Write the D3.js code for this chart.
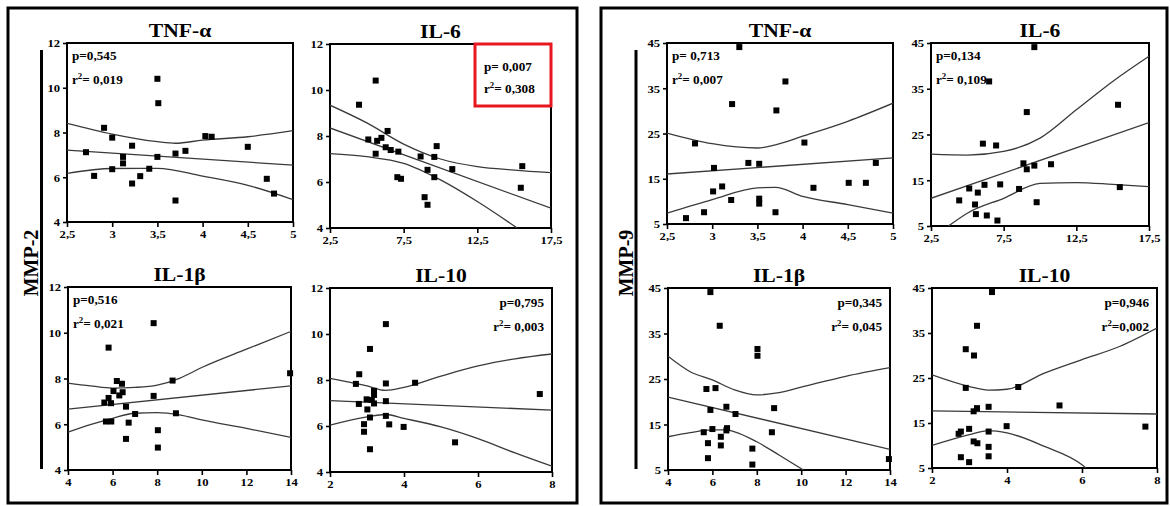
<!DOCTYPE html>
<html><head><meta charset="utf-8">
<script src="https://cdn.jsdelivr.net/npm/d3@7"></script>
<style>
body{margin:0;background:#fff}
svg{display:block}
text{font-family:"Liberation Serif","Times New Roman",serif;font-weight:bold;fill:#000}
</style>
</head><body>
<svg id="c" width="1170" height="506"></svg>
<script>
// ---------------- DATA ----------------
const groupLabels = ["MMP-2", "MMP-9"];
const cytokines = ["TNF-α", "IL-6", "IL-1β", "IL-10"];
const xDomains = [[2.5, 5], [2.5, 17.5], [4, 14], [2, 8]];
const xTickValues = [[2.5, 3, 3.5, 4, 4.5, 5], [2.5, 7.5, 12.5, 17.5], [4, 6, 8, 10, 12, 14], [2, 4, 6, 8]];
const yDomainMMP2 = [4, 12];
const yTicksMMP2 = [4, 6, 8, 10, 12];
const yDomainMMP9 = [5, 45];
const yTicksMMP9 = [5, 15, 25, 35, 45];
const pTextMMP2 = ["p=0,545", "p= 0,007", "p=0,516", "p=0,795"];
const r2TextMMP2 = ["= 0,019", "= 0,308", "= 0,021", "= 0,003"];
const pTextMMP9 = ["p= 0,713", "p=0,134", "p=0,345", "p=0,946"];
const r2TextMMP9 = ["= 0,007", "= 0,109", "= 0,045", "=0,002"];

// MMP-2 points [cytokine, MMP]
const mmp2_tnf = [[3.50,10.40],[3.51,9.31],[2.91,8.21],[3.00,7.77],[2.71,7.12],[3.22,7.41],[3.12,6.91],[3.12,6.62],[3.00,6.36],[2.80,6.06],[3.22,5.72],[3.31,6.05],[3.41,6.38],[3.50,6.91],[3.70,7.06],[3.81,7.18],[3.70,4.96],[4.03,7.84],[4.10,7.81],[4.50,7.36],[4.71,5.93],[4.79,5.27]];
const mmp2_il6 = [[5.60,10.41],[4.47,9.36],[5.10,7.85],[5.70,7.79],[5.99,7.92],[6.41,8.22],[5.60,7.23],[6.28,7.51],[6.62,7.39],[7.14,7.32],[7.07,6.21],[7.32,6.14],[8.65,7.11],[9.12,6.53],[9.58,6.21],[9.58,7.09],[9.74,7.56],[8.92,5.34],[9.12,5.01],[10.8,6.56],[15.55,6.69],[15.45,5.75]];
const mmp2_il1b = [[7.84,10.42],[5.82,9.35],[6.19,7.89],[6.42,7.77],[6.04,7.45],[6.30,7.26],[6.45,7.40],[5.82,7.15],[5.63,6.95],[5.93,6.92],[6.60,6.77],[7.01,6.45],[6.72,6.07],[5.70,6.12],[5.94,6.12],[6.60,5.36],[7.84,7.24],[8.69,7.91],[8.84,6.48],[8.03,5.74],[8.03,4.98],[13.96,8.23]];
const mmp2_il10 = [[3.51,10.43],[3.08,9.35],[2.79,8.25],[2.70,7.83],[3.51,7.85],[4.30,7.88],[3.19,7.53],[3.19,7.35],[2.99,7.16],[3.13,7.13],[2.78,6.96],[3.19,6.98],[3.51,7.08],[3.01,6.72],[3.08,6.37],[3.51,6.44],[2.92,6.08],[2.92,5.75],[3.60,6.07],[3.99,5.96],[3.08,4.99],[5.38,5.29],[7.67,7.39]];
// MMP-9 points
const mmp9_tnf = [[3.30,44.1],[3.81,36.5],[3.22,31.5],[3.71,30.1],[2.81,22.8],[4.02,23.0],[3.02,17.4],[3.40,18.5],[3.52,18.3],[4.81,18.5],[3.01,12.2],[3.11,13.3],[3.21,10.3],[3.52,10.6],[3.52,9.5],[4.12,13.0],[4.51,14.1],[4.70,14.1],[2.91,7.6],[3.70,7.6],[2.71,6.3]];
const mmp9_il6 = [[9.61,44.1],[6.50,36.6],[9.09,29.9],[15.37,31.5],[6.07,23.0],[6.98,22.6],[8.86,18.7],[9.09,17.4],[9.61,18.2],[10.76,18.5],[5.13,13.2],[6.18,14.0],[5.72,12.3],[7.26,14.1],[8.56,13.1],[4.44,10.6],[5.53,9.7],[5.59,7.6],[6.34,7.3],[7.07,6.2],[9.77,10.2],[15.49,13.5]];
const mmp9_il1b = [[5.91,44.1],[6.33,36.7],[8.03,31.6],[8.03,30.1],[5.73,22.8],[6.14,23.0],[5.91,18.2],[6.63,18.9],[7.04,17.3],[8.78,18.6],[5.61,13.3],[6.00,14.0],[6.66,14.2],[6.63,13.7],[6.38,12.3],[5.80,10.9],[6.38,10.4],[7.80,9.7],[5.80,7.6],[7.80,6.2],[8.68,13.3],[13.95,7.4]];
const mmp9_il10 = [[3.60,44.1],[3.20,36.6],[2.90,31.4],[3.12,30.0],[2.90,22.8],[4.30,23.0],[3.20,18.3],[3.11,17.6],[3.51,18.6],[5.40,18.9],[2.99,13.7],[2.77,13.1],[2.71,12.6],[3.51,13.1],[3.99,14.3],[7.69,14.2],[3.11,10.9],[3.21,10.5],[3.51,9.7],[3.51,7.6],[2.77,7.4],[2.99,6.3]];

// regression lines and 95% bands
const mmp2_tnf_fit = [[2.5,7.21],[5,6.54]];
const mmp2_tnf_up = [[2.5,8.41],[3.0,7.93],[3.5,7.59],[3.7,7.52],[4.0,7.66],[4.5,7.81],[5.0,8.08]];
const mmp2_tnf_lo = [[2.5,6.17],[3.0,6.39],[3.5,6.40],[4.0,6.05],[4.5,5.64],[5.0,5.00]];
const mmp2_il6_fit = [[2.5,8.35],[17.5,4.86]];
const mmp2_il6_up = [[2.5,9.34],[5,8.57],[7.5,7.65],[10,7.0],[12.5,6.67],[15,6.52],[17.5,6.41]];
const mmp2_il6_lo = [[2.5,7.23],[5,7.10],[7.5,6.81],[10,6.09],[12.5,5.15],[15.2,4.0]];
const mmp2_il1b_fit = [[4,6.66],[14,7.68]];
const mmp2_il1b_up = [[4,7.80],[5,7.68],[6,7.58],[7,7.61],[8,7.71],[9,8.01],[10,8.48],[12,9.28],[14,10.06]];
const mmp2_il1b_lo = [[4,5.65],[5,5.98],[6,6.26],[7,6.48],[8,6.51],[9,6.41],[10,6.19],[12,5.82],[14,5.43]];
const mmp2_il10_fit = [[2,7.10],[8,6.69]];
const mmp2_il10_up = [[2,8.07],[3,7.74],[3.5,7.55],[4,7.68],[5,8.17],[6,8.61],[7,8.92],[8,9.13]];
const mmp2_il10_lo = [[2,6.04],[3,6.40],[3.5,6.50],[4,6.33],[5,5.96],[6,5.45],[7,4.83],[8,4.25]];
const mmp9_tnf_fit = [[2.5,16.05],[5,19.6]];
const mmp9_tnf_up = [[2.5,25.1],[3.0,22.75],[3.5,21.8],[3.7,22.5],[4.0,24.4],[4.5,27.7],[5.0,31.7]];
const mmp9_tnf_lo = [[2.5,7.4],[3.0,10.4],[3.5,13.0],[3.7,13.1],[4.0,11.1],[4.5,9.3],[5.0,7.4]];
const mmp9_il6_fit = [[2.5,11.06],[17.5,27.6]];
const mmp9_il6_up = [[2.5,20.7],[5,20.5],[7.5,21.3],[10,24.2],[12.5,30.4],[15,36.6],[17.5,42.1]];
const mmp9_il6_lo = [[3.7,5.0],[5,7.8],[7.5,11.06],[10,14.3],[12.5,14.5],[15,14.1],[17.5,13.6]];
const mmp9_il1b_fit = [[4,21.0],[14,9.55]];
const mmp9_il1b_up = [[4,30.0],[5,26.6],[6,24.8],[7,22.6],[8,21.5],[9,22.0],[10,23.2],[12,25.6],[14,27.5]];
const mmp9_il1b_lo = [[4,12.3],[5,13.2],[6,13.8],[6.6,13.8],[7,13.4],[8,11.2],[9,8.3],[10.1,5.0]];
const mmp9_il10_fit = [[2,17.7],[8,17.0]];
const mmp9_il10_up = [[2,25.7],[3,23.1],[3.5,22.3],[4,22.5],[5,26.1],[6,29.1],[7,32.0],[8,36.1]];
const mmp9_il10_lo = [[2,10.0],[3,12.4],[3.5,13.3],[4,12.8],[5,9.8],[6,5.7],[6.1,5.0]];

// ---------------- LAYOUT ----------------
const rects = [
  [67,293,43,222],[330,551,44,228],[68,291,287,470],[330,552,288,472],
  [667,893,43,224],[931,1149,43,226],[668,890,288,470],[932,1157,288,468]
];
const statPos = ["tl","box","tl","tr","tl","tl","tr","tr"];

const panels = [
  {pts:mmp2_tnf, fit:mmp2_tnf_fit, up:mmp2_tnf_up, lo:mmp2_tnf_lo},
  {pts:mmp2_il6, fit:mmp2_il6_fit, up:mmp2_il6_up, lo:mmp2_il6_lo},
  {pts:mmp2_il1b, fit:mmp2_il1b_fit, up:mmp2_il1b_up, lo:mmp2_il1b_lo},
  {pts:mmp2_il10, fit:mmp2_il10_fit, up:mmp2_il10_up, lo:mmp2_il10_lo},
  {pts:mmp9_tnf, fit:mmp9_tnf_fit, up:mmp9_tnf_up, lo:mmp9_tnf_lo},
  {pts:mmp9_il6, fit:mmp9_il6_fit, up:mmp9_il6_up, lo:mmp9_il6_lo},
  {pts:mmp9_il1b, fit:mmp9_il1b_fit, up:mmp9_il1b_up, lo:mmp9_il1b_lo},
  {pts:mmp9_il10, fit:mmp9_il10_fit, up:mmp9_il10_up, lo:mmp9_il10_lo}
];
panels.forEach((p, i) => {
  const g = Math.floor(i / 4), k = i % 4;
  p.title = cytokines[k];
  p.xDom = xDomains[k];
  p.xTicks = xTickValues[k];
  p.yDom = g === 0 ? yDomainMMP2 : yDomainMMP9;
  p.yTicks = g === 0 ? yTicksMMP2 : yTicksMMP9;
  p.pText = g === 0 ? pTextMMP2[k] : pTextMMP9[k];
  p.r2Text = g === 0 ? r2TextMMP2[k] : r2TextMMP9[k];
  p.rect = rects[i];
  p.stat = statPos[i];
});

const svg = d3.select("#c");
const fmt = d => String(d).replace(".", ",");

function stext(sel, x, y, str, size, anchor, sx) {
  return sel.append("text")
    .attr("transform", `translate(${x},${y}) scale(${sx},1)`)
    .attr("text-anchor", anchor)
    .style("font-size", size + "px")
    .text(str);
}

// outer frames
[[8,8,577,503],[601,8,1167,503]].forEach(f => {
  svg.append("rect").attr("x", f[0]).attr("y", f[1]).attr("width", f[2]-f[0]).attr("height", f[3]-f[1])
    .attr("fill", "none").attr("stroke", "#000").attr("stroke-width", 3);
});

// group labels and bars
[[31, 41.5], [626, 636]].forEach((pos, gi) => {
  svg.append("text")
    .attr("transform", `translate(${pos[0] + 7},263) rotate(-90)`)
    .attr("text-anchor", "middle")
    .style("font-size", "20px")
    .text(groupLabels[gi]);
  svg.append("line").attr("x1", pos[1]).attr("x2", pos[1]).attr("y1", 50).attr("y2", 469)
    .attr("stroke", "#000").attr("stroke-width", 3);
});

const defs = svg.append("defs");

panels.forEach((p, i) => {
  const [x0, x1, y0, y1] = p.rect;
  const x = d3.scaleLinear().domain(p.xDom).range([x0, x1]);
  const y = d3.scaleLinear().domain(p.yDom).range([y1, y0]);
  const g = svg.append("g");

  defs.append("clipPath").attr("id", "clip" + i)
    .append("rect").attr("x", x0).attr("y", y0).attr("width", x1 - x0).attr("height", y1 - y0);

  // axes
  const ax = g.append("g").attr("transform", `translate(0,${y1})`)
    .call(d3.axisBottom(x).tickValues(p.xTicks).tickSize(5).tickPadding(3).tickFormat(fmt));
  const ay = g.append("g").attr("transform", `translate(${x0},0)`)
    .call(d3.axisLeft(y).tickValues(p.yTicks).tickSize(4).tickPadding(2).tickFormat(fmt));
  [ax, ay].forEach(a => {
    a.select(".domain").remove();
    a.selectAll(".tick line").attr("stroke", "#000").attr("stroke-width", 1.6);
    a.selectAll(".tick text")
      .style("font-family", '"Liberation Serif","Times New Roman",serif')
      .style("font-weight", "bold").style("font-size", "11px").attr("fill", "#000");
  });
  ax.selectAll(".tick text").attr("transform", "scale(1.15,1)");
  ay.selectAll(".tick text").attr("transform", "scale(1.15,1)").attr("dy", "0.35em");

  // plot box
  g.append("rect").attr("x", x0).attr("y", y0).attr("width", x1 - x0).attr("height", y1 - y0)
    .attr("fill", "none").attr("stroke", "#000").attr("stroke-width", 2);

  // title
  stext(g, (x0 + x1) / 2, y0 - 6, p.title, 18, "middle", 1.2);

  // lines
  const line = d3.line().x(d => x(d[0])).y(d => y(d[1])).curve(d3.curveMonotoneX);
  const lg = g.append("g").attr("clip-path", `url(#clip${i})`);
  [p.up, p.fit, p.lo].forEach(L => {
    lg.append("path").attr("d", line(L)).attr("fill", "none")
      .attr("stroke", "#3a3a3a").attr("stroke-width", 1.3);
  });

  // points
  g.append("g").selectAll("rect").data(p.pts).join("rect")
    .attr("x", d => x(d[0]) - 3).attr("y", d => y(d[1]) - 3)
    .attr("width", 6).attr("height", 6).attr("fill", "#000");

  // stats text
  let tx, ty1, ty2, anchor;
  if (p.stat === "tl") { tx = x0 + 5; ty1 = y0 + 17; ty2 = y0 + 41; anchor = "start"; }
  else if (p.stat === "tr") { tx = x1 - 8; ty1 = y0 + 19; ty2 = y0 + 43; anchor = "end"; }
  else { tx = x1 - 67; ty1 = y0 + 27; ty2 = y0 + 49; anchor = "start"; }
  if (p.stat === "box") {
    g.append("rect").attr("x", x1 - 76).attr("y", y0).attr("width", 76).attr("height", 62)
      .attr("fill", "none").attr("stroke", "#e8161e").attr("stroke-width", 3);
  }
  stext(g, tx, ty1, p.pText, 12, anchor, 1.1);
  const t2 = g.append("text")
    .attr("transform", `translate(${tx},${ty2}) scale(1.1,1)`)
    .attr("text-anchor", anchor).style("font-size", "12px");
  t2.append("tspan").text("r");
  t2.append("tspan").attr("dy", -5).style("font-size", "8px").text("2");
  t2.append("tspan").attr("dy", 5).text(p.r2Text);
});
</script>
</body></html>
